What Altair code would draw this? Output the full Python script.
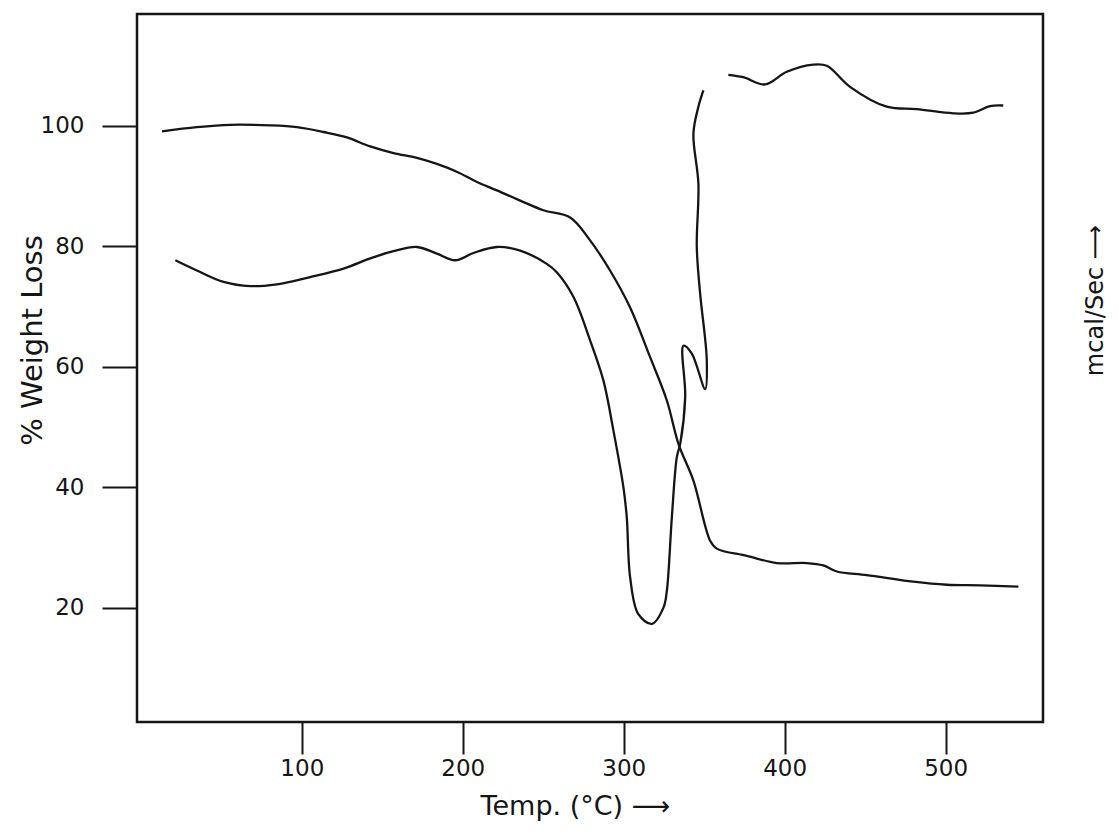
import altair as alt
import pandas as pd

# ---- data ----
# TGA curve (% weight remaining)
tga_temp = [13.1, 34.8, 55.5, 80.4, 97.0, 113.5, 128.0, 142.5, 157.0, 171.5, 183.9,
            196.3, 208.8, 221.2, 235.7, 250.1, 266.7, 279.1, 291.5, 303.9, 316.4,
            326.8, 334.0, 343.3, 353.7, 357.8, 376.5, 395.1, 413.7, 424.0, 432.4,
            451.0, 479.9, 500.7, 521.4, 545.2]
tga_value = [99.1, 99.8, 100.2, 100.1, 99.8, 99.0, 98.1, 96.6, 95.5, 94.7, 93.7,
             92.4, 90.7, 89.3, 87.6, 86.0, 84.8, 81.0, 76.0, 69.9, 61.6,
             54.4, 47.2, 41.1, 31.1, 29.8, 28.6, 27.4, 27.4, 27.0, 26.0,
             25.4, 24.3, 23.8, 23.7, 23.5]

# DTA curve, first stroke (ordered along the pen path)
dta1_temp = [21.4, 34.8, 51.4, 68.0, 84.5, 105.2, 125.9, 142.5, 157.0, 171.5, 183.9,
             195.3, 206.6, 221.2, 235.7, 252.2, 258.4, 268.8, 279.1, 287.4, 293.6,
             299.8, 301.9, 304.0, 309.1, 317.5, 324.7, 326.8, 329.9, 333.0, 335.1,
             338.2, 337.1, 342.3, 350.6, 351.6, 347.5, 345.4, 346.4, 343.3, 346.4, 349.5]
dta1_value = [77.7, 76.0, 74.1, 73.4, 73.7, 74.9, 76.3, 78.0, 79.2, 79.9, 78.8,
              77.7, 78.9, 79.9, 79.3, 77.1, 75.7, 71.6, 64.4, 57.7, 49.4,
              40.0, 35.0, 25.0, 18.9, 17.3, 20.0, 22.8, 35.0, 45.0, 47.2,
              55.0, 63.5, 62.2, 56.3, 61.1, 72.1, 79.9, 90.4, 98.7, 103.2, 105.9]

# DTA curve, second stroke (upper right plateau)
dta2_temp = [365.0, 374.3, 387.8, 401.3, 417.8, 426.2, 440.6, 463.4, 482.0, 504.8,
             517.2, 527.6, 535.8]
dta2_value = [108.5, 108.1, 106.9, 109.0, 110.2, 110.0, 106.5, 103.2, 102.8, 102.1,
              102.2, 103.3, 103.4]

x_ticks = [100, 200, 300, 400, 500]
y_ticks = [20, 40, 60, 80, 100]

tga_df = pd.DataFrame({"t": tga_temp, "v": tga_value, "i": range(len(tga_temp))})
dta_df = pd.concat([
    pd.DataFrame({"t": dta1_temp, "v": dta1_value, "seg": "a", "i": range(len(dta1_temp))}),
    pd.DataFrame({"t": dta2_temp, "v": dta2_value, "seg": "b", "i": range(len(dta2_temp))}),
], ignore_index=True)

FONT = "DejaVu Sans"
INK = "#151515"

x_scale = alt.Scale(domain=[-2.4, 560.5], nice=False, zero=False)
y_scale = alt.Scale(domain=[1, 118.6], nice=False, zero=False)

x_axis = alt.Axis(values=x_ticks, title="Temp. (°C) ⟶", grid=False, domain=False,
                  tickSize=32, tickWidth=2, tickColor=INK, labelPadding=3,
                  labelFontSize=23, labelFont=FONT, labelColor=INK,
                  titleFontSize=27, titleFont=FONT, titleFontWeight="normal", titleColor=INK,
                  titleX=438, titleY=84, titleAlign="center", titleBaseline="middle")

y_axis = alt.Axis(values=y_ticks, title="% Weight Loss", grid=False, domain=False,
                  tickSize=35, tickWidth=2, tickColor=INK, labelPadding=18,
                  labelFontSize=23, labelFont=FONT, labelColor=INK,
                  titleFontSize=29, titleFont=FONT, titleFontWeight="normal", titleColor=INK,
                  titleAngle=270, titleX=-105, titleY=326, titleAlign="center",
                  titleBaseline="middle")

y2_axis = alt.Axis(orient="right", title="mcal/Sec ⟶", grid=False, domain=False,
                   labels=False, ticks=False,
                   titleFontSize=24, titleFont=FONT, titleFontWeight="normal", titleColor=INK,
                   titleAngle=270, titleX=52, titleY=286, titleAlign="center",
                   titleBaseline="middle")

tga = alt.Chart(tga_df).mark_line(color=INK, strokeWidth=2.3,
                                  interpolate="catmull-rom").encode(
    x=alt.X("t:Q", scale=x_scale, axis=x_axis),
    y=alt.Y("v:Q", scale=y_scale, axis=y_axis),
    order="i:Q",
)

dta = alt.Chart(dta_df).mark_line(color=INK, strokeWidth=2.3,
                                  interpolate="catmull-rom").encode(
    x=alt.X("t:Q", scale=x_scale, axis=x_axis),
    y=alt.Y("v:Q", scale=y_scale, axis=y2_axis),
    detail="seg:N",
    order="i:Q",
)

chart = alt.layer(tga, dta).resolve_scale(y="independent").properties(
    width=906,
    height=708,
    autosize=alt.AutoSizeParams(type="none"),
    padding={"left": 129, "top": 6, "right": 67, "bottom": 104},
    background="white",
).configure_view(stroke=INK, strokeWidth=2.5)

chart.save("out.html", embed_options={"renderer": "svg", "actions": False})
